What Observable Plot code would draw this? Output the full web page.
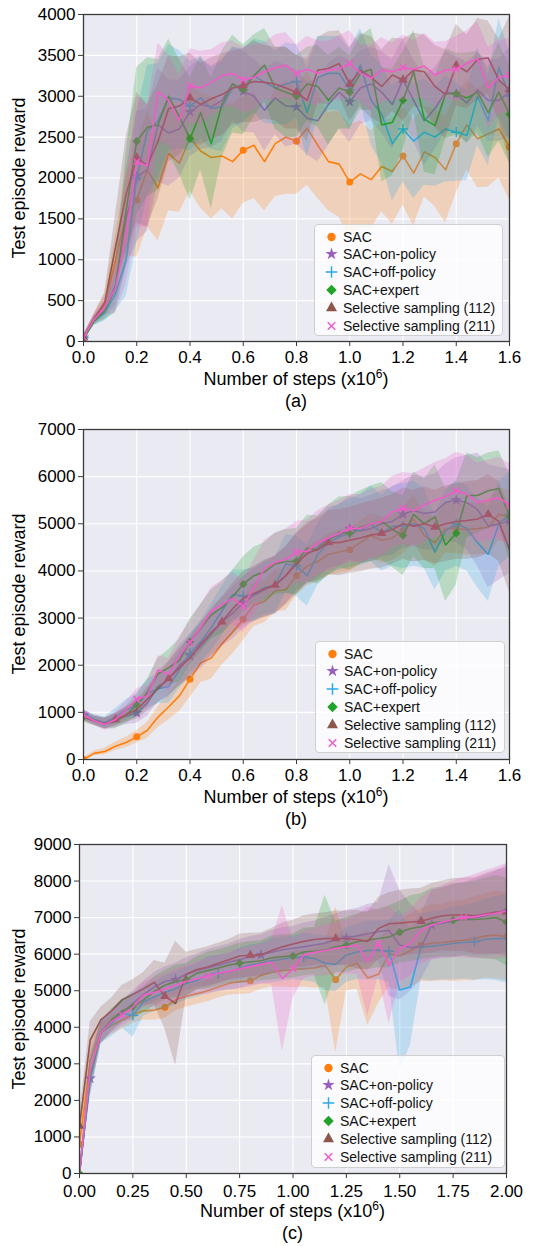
<!DOCTYPE html>
<html><head><meta charset="utf-8">
<script src="https://cdn.jsdelivr.net/npm/d3@7"></script>
<script src="https://cdn.jsdelivr.net/npm/@observablehq/plot@0.6"></script>
<style>
body{margin:0;background:#fff;font-family:"Liberation Sans",Arial,sans-serif;}
#root{position:relative;width:542px;height:1246px;overflow:hidden;background:#fff;}
.panel{position:absolute;left:0;}
.lbl{position:absolute;text-align:center;font-size:18px;line-height:20px;height:20px;color:#000;white-space:nowrap;}
.lbl sup{font-size:12px;line-height:0;vertical-align:7px;}
.ylbl{position:absolute;width:300px;height:20px;line-height:20px;text-align:center;font-size:18px;white-space:nowrap;transform:rotate(-90deg);transform-origin:center center;color:#000;}
.legend{position:absolute;background:rgba(255,255,255,0.8);border:1px solid #cfcfcf;border-radius:4px;box-sizing:border-box;}
.row{position:absolute;left:0;height:18px;display:flex;align-items:center;font-size:14px;white-space:nowrap;color:#111;}
.row svg{flex:none;}
</style></head>
<body><div id="root"></div>
<script>
// ---------------- DATA ----------------
const seriesNames = ["SAC","SAC+on-policy","SAC+off-policy","SAC+expert","Selective sampling (112)","Selective sampling (211)"];

const stepsAB = [0,0.04,0.08,0.12,0.16,0.2,0.24,0.28,0.32,0.36,0.4,0.44,0.48,0.52,0.56,0.6,0.64,0.68,0.72,0.76,0.8,0.84,0.88,0.92,0.96,1.0,1.04,1.08,1.12,1.16,1.2,1.24,1.28,1.32,1.36,1.4,1.44,1.48,1.52,1.56,1.6];
const stepsC = [0,0.05,0.1,0.15,0.2,0.25,0.3,0.35,0.4,0.45,0.5,0.55,0.6,0.65,0.7,0.75,0.8,0.85,0.9,0.95,1.0,1.05,1.1,1.15,1.2,1.25,1.3,1.35,1.4,1.45,1.5,1.55,1.6,1.65,1.7,1.75,1.8,1.85,1.9,1.95,2.0];

// panel (a): means
const aSAC = [50,280,450,1000,1550,1730,2100,1880,2300,2180,2490,2330,2250,2270,2200,2340,2400,2200,2420,2500,2450,2610,2400,2200,2170,1950,2050,1980,2140,2080,2270,2060,2320,2250,2100,2420,2650,2480,2540,2600,2380];
const aOn = [50,260,380,700,1500,2020,2100,2650,2550,2600,2810,2900,2870,2950,3150,3060,3000,2830,2980,2880,2870,2730,2700,2900,3050,2930,3100,3150,3050,2900,3200,2950,2700,2850,3050,3030,2920,3080,2950,2950,3050];
const aOff = [50,250,350,580,1000,2000,2580,2700,2980,2960,2880,2980,2850,2870,3100,3130,3250,3170,3100,3150,3180,2800,3230,3280,3280,3080,3380,2950,2780,2420,2600,2450,2560,2500,2600,2560,2520,3000,2700,3350,3000];
const aExp = [30,250,370,650,1600,2450,2620,2650,3000,2750,2480,2800,2420,2900,3150,3080,3250,3380,3100,3050,3000,3150,3120,2950,3100,3050,3280,3330,2650,2680,2950,3300,2720,2640,3030,3030,2980,3050,2800,3050,2780];
const a112 = [50,280,480,1150,1800,2250,2150,2450,2850,2880,2980,2900,2970,3020,3100,3130,3180,3170,3150,3100,3050,2950,3320,3340,3400,3150,3320,3230,3120,3260,3200,3320,3300,3120,3020,3380,3300,3450,3470,3200,3080];
const a211 = [50,270,420,650,1300,2200,2150,3050,2950,2700,3130,3100,3170,3250,3280,3200,3230,3300,3350,3380,3280,3330,3280,3320,3340,3400,3280,3220,3320,3300,3350,3330,3370,3260,3320,3330,3400,3460,3100,3230,3260];
// panel (a): band half-widths
const aSACs = [30,60,120,300,500,700,700,650,700,600,650,700,750,650,700,650,650,600,650,700,650,700,650,600,650,700,650,600,550,650,600,650,550,600,650,600,550,600,650,600,650];
const aOnS = [30,50,100,250,600,800,750,700,650,600,550,550,500,500,450,500,450,500,450,500,450,450,500,500,450,500,450,450,500,550,500,500,550,500,500,450,500,450,500,500,550];
const aOffS = [30,50,100,200,450,800,800,700,650,600,550,500,500,550,500,450,450,500,450,500,450,550,500,450,450,500,450,550,600,700,650,700,650,600,650,600,550,600,550,600,550];
const aExpS = [30,50,100,300,700,900,850,800,700,700,750,700,800,650,600,550,500,450,500,550,500,450,500,550,500,450,450,500,700,650,600,500,650,600,550,500,550,500,550,600,600];
const a112S = [30,60,120,400,700,800,750,700,650,600,550,500,500,500,450,450,500,450,450,500,450,500,400,450,400,450,450,500,450,450,500,450,450,500,550,500,450,500,450,500,900];
const a211S = [30,50,100,300,600,800,750,600,550,550,450,450,400,400,400,400,400,350,400,400,350,400,400,350,400,400,350,400,400,350,400,350,400,400,350,400,400,450,500,450,450];

// panel (b): means
const bSAC = [0,130,170,280,360,480,620,900,1120,1350,1700,2050,2150,2450,2700,2980,3280,3350,3580,3600,3900,4100,4200,4350,4400,4450,4600,4750,4650,4700,4850,5100,4750,4600,4900,4900,4880,4900,4920,5200,5150];
const bOn = [950,850,770,830,920,990,1200,1550,1700,2000,2200,2400,2650,2920,3100,3330,3480,3600,3700,3900,4200,4350,4500,4700,4750,4900,4850,4900,5000,5050,5200,5280,5220,5250,5450,5500,5450,5300,4950,5000,5050];
const bOff = [950,850,780,900,1050,1150,1400,1500,1550,1900,2250,2500,2800,3150,3500,3470,3500,3650,3700,4150,4100,3900,4350,4600,4720,4800,4870,5000,4800,4950,4950,5000,4900,4400,4850,5000,4900,4600,4350,5000,5200];
const bExp = [900,820,760,800,950,1150,1420,1820,1950,2100,2500,2780,3070,3220,3450,3720,3900,3980,4150,4200,4200,4480,4450,4650,4820,4800,4920,5000,5050,4880,4750,5200,5000,5150,4550,4800,5600,5600,5700,5750,5150];
const b112 = [900,820,760,850,950,1060,1280,1500,1720,1950,2150,2450,2700,2920,3200,3420,3520,3620,3700,3900,4150,4380,4450,4600,4600,4650,4700,4760,4800,4880,5000,4950,5000,4930,5000,5050,5070,5100,5200,5050,4450];
const b211 = [950,820,740,850,1050,1280,1350,1900,1800,2200,2480,2800,3150,3280,3420,3250,3650,4050,4180,4250,4400,4420,4600,4700,4800,4900,4900,5000,5050,5250,5330,5280,5400,5500,5580,5700,5630,5450,5500,5550,5400];
// panel (b): band half-widths
const bSACs = [30,50,70,90,110,130,170,220,280,330,380,420,440,450,460,460,460,450,450,440,420,420,430,440,450,460,460,470,480,480,490,500,500,510,520,530,540,550,560,560,560];
const bOnS = [100,100,120,150,180,220,280,330,380,420,450,480,500,520,550,550,560,580,600,600,620,620,650,650,650,680,680,700,700,720,720,750,780,800,820,900,1000,1200,1300,1200,1100];
const bOffS = [100,100,120,180,220,250,300,320,350,400,420,450,500,520,520,550,560,580,600,620,640,650,650,680,700,720,750,800,800,850,900,900,850,800,850,900,900,950,1000,900,900];
const bExpS = [100,100,120,150,180,230,280,330,380,450,480,500,520,550,560,580,600,620,650,680,700,700,720,750,750,780,780,800,820,800,850,900,950,1100,1200,1100,900,800,800,800,900];
const b112S = [100,100,110,130,160,200,250,300,350,400,430,460,500,520,540,560,580,600,620,620,640,650,660,680,700,700,720,720,740,740,760,760,780,780,800,800,820,820,840,850,900];
const b211S = [100,100,120,150,180,220,260,300,350,400,450,480,500,520,540,560,580,600,620,640,650,660,680,700,700,720,720,740,740,760,760,780,780,800,800,820,820,840,850,860,880];

// panel (c): means
const cSAC = [800,3100,3850,4050,4200,4350,4450,4470,4550,4750,4850,4920,5000,5100,5200,5250,5270,5420,5500,5550,5580,5600,5620,5700,5300,5650,5750,5350,5450,6000,5950,6100,6250,6300,6320,6350,6380,6420,6500,6520,6480];
const cOn = [0,2600,3850,4150,4400,4650,4900,5100,5250,5300,5450,5550,5620,5700,5780,5850,5930,5980,6050,6120,6160,6200,6250,6300,6400,6450,6500,6560,6620,6650,6250,6180,6200,6800,6850,6900,6970,7000,7050,7120,7230];
const cOff = [0,2600,3850,4100,4380,4330,4700,4830,4950,5060,5200,5280,5430,5480,5520,5620,5700,5750,5820,5860,5900,5920,5880,5750,5720,5980,6060,6100,6110,6080,5020,5100,6200,6220,6250,6290,6320,6340,6400,6430,6420];
const cExp = [0,2700,3850,4200,4450,4560,4750,4980,5150,5250,5300,5480,5550,5620,5700,5750,5790,5820,5900,5930,5950,6060,6080,6110,6200,6250,6340,6380,6430,6470,6600,6700,6750,6850,6880,6930,6940,6950,6970,7000,6880];
const c112 = [1300,3650,4200,4450,4750,4900,5050,5230,4850,4650,5450,5580,5650,5750,5850,5950,5970,5980,6100,6200,6280,6350,6400,6430,6430,6430,6400,6350,6700,6830,6850,6880,6900,6980,7050,7070,7080,7050,7100,7150,7150];
const c211 = [0,2800,3850,4150,4330,4550,4880,4950,5050,5150,5250,5330,5400,5480,5530,5600,5660,5720,5780,5330,5600,5980,6050,6100,6160,6200,6250,5800,6300,5700,6150,6300,6650,6800,6880,6950,7000,7020,7080,7120,7180];
// panel (c): band half-widths
const cSACs = [300,600,250,250,250,250,250,280,300,300,300,300,300,300,320,350,350,380,400,450,500,500,550,600,2000,650,700,1300,800,900,950,1000,1000,1050,1050,1100,1100,1150,1150,1200,1200];
const cOnS = [100,500,300,300,300,350,350,400,400,450,450,450,500,500,500,550,550,550,600,600,600,650,650,700,700,750,750,800,800,1800,1500,1200,900,950,950,1000,1000,1050,1100,1150,1200];
const cOffS = [100,500,300,350,400,600,400,400,450,450,450,450,500,500,500,550,550,550,600,600,600,650,650,750,750,750,750,800,800,850,2200,1600,900,950,950,1000,1000,1050,1100,1150,1200];
const cExpS = [100,500,300,300,300,350,350,400,400,450,450,450,500,500,500,550,550,550,600,600,600,650,650,1500,700,750,750,800,800,850,850,900,900,950,950,1000,1000,1050,1100,1150,1200];
const c112S = [300,500,350,350,400,400,450,600,900,1700,600,550,550,550,550,600,600,600,600,650,650,700,700,700,750,750,800,800,850,850,900,900,900,950,950,1000,1000,1050,1100,1150,1200];
const c211S = [100,500,300,300,300,350,350,400,400,450,450,450,500,500,500,550,550,550,600,2000,800,650,650,700,700,750,800,1500,900,1600,900,900,900,950,1000,1050,1100,1150,1200,1250,1300];

// tick labels
const xTicksAB = [0,0.2,0.4,0.6,0.8,1.0,1.2,1.4,1.6];
const xTicksC = [0,0.25,0.5,0.75,1.0,1.25,1.5,1.75,2.0];
const yTicksA = [0,500,1000,1500,2000,2500,3000,3500,4000];
const yTicksB = [0,1000,2000,3000,4000,5000,6000,7000];
const yTicksC = [0,1000,2000,3000,4000,5000,6000,7000,8000,9000];
const xLabel = "Number of steps (x10<sup>6</sup>)";
const yLabel = "Test episode reward";
const captions = ["(a)","(b)","(c)"];

// ---------------- STYLE ----------------
const colors = ["#ff7f0e","#9b5fc0","#2ea8e6","#1fa32a","#8c564b","#f05cc8"];
const symbols = ["circle","star","plus","diamond2","triangle","times"];
const d3sym = [d3.symbolCircle,d3.symbolStar,d3.symbolPlus,d3.symbolDiamond2,d3.symbolTriangle,d3.symbolTimes];
const strokeSym = [false,false,true,false,false,true];
const symR = [3.5,3.6,3.4,3.8,3.5,3.0];
const legR = [4.2,3.9,3.8,4.7,4.1,3.5];
const FONT = "'Liberation Sans', Arial, sans-serif";

const panels = [
  {means:[aSAC,aOn,aOff,aExp,a112,a211], spreads:[aSACs,aOnS,aOffS,aExpS,a112S,a211S], steps:stepsAB,
   xDomain:[0,1.6], yDomain:[0,4000], xTicks:xTicksAB, yTicks:yTicksA, xFmt:d3.format(".1f"), xPad:4,
   top:0, mt:14, ph:327, ml:83, mr:33, mark:[[5,0],[5,0],[5,0],[5,0],[5,0],[5,0]],
   lg:{x:314,y:224,w:189,h:112}},
  {means:[bSAC,bOn,bOff,bExp,b112,b211], spreads:[bSACs,bOnS,bOffS,bExpS,b112S,b211S], steps:stepsAB,
   xDomain:[0,1.6], yDomain:[0,7000], xTicks:xTicksAB, yTicks:yTicksB, xFmt:d3.format(".1f"), xPad:4,
   top:415, mt:14, ph:330, ml:83, mr:33, mark:[[5,0],[5,0],[5,0],[5,0],[5,3],[5,0]],
   lg:{x:315,y:641,w:190,h:112}},
  {means:[cSAC,cOn,cOff,cExp,c112,c211], spreads:[cSACs,cOnS,cOffS,cExpS,c112S,c211S], steps:stepsC,
   xDomain:[0,2.0], yDomain:[0,9000], xTicks:xTicksC, yTicks:yTicksC, xFmt:d3.format(".2f"), xPad:6,
   top:830, mt:14, ph:329, ml:79, mr:36, mark:[[8,0],[8,1],[8,5],[5,0],[8,0],[8,4]],
   lg:{x:311,y:1055,w:194,h:113}}
];

const root = document.getElementById("root");

panels.forEach((p, pi) => {
  const marks = [
    Plot.frame({fill:"#eaeaf2"}),
    Plot.gridX(p.xTicks, {stroke:"#ffffff", strokeOpacity:1, strokeWidth:1.1}),
    Plot.gridY(p.yTicks, {stroke:"#ffffff", strokeOpacity:1, strokeWidth:1.1})
  ];
  p.means.forEach((m, si) => {
    const sp = p.spreads[si];
    const rows = p.steps.map((x,i)=>({x, y:m[i], lo:m[i]-sp[i], hi:m[i]+sp[i], i}));
    const [every, off] = p.mark[si];
    const mk = rows.filter(d => d.i >= off && (d.i - off) % every === 0);
    marks.push(Plot.areaY(rows, {x:"x", y1:"lo", y2:"hi", fill:colors[si], fillOpacity:0.24, clip:true}));
    marks.push(Plot.lineY(rows, {x:"x", y:"y", stroke:colors[si], strokeWidth:1.6, clip:true}));
    if (strokeSym[si]) {
      marks.push(Plot.dot(mk, {x:"x", y:"y", symbol:symbols[si], r:symR[si], stroke:colors[si], strokeWidth:1.5, fill:"none", clip:true}));
    } else {
      marks.push(Plot.dot(mk, {x:"x", y:"y", symbol:symbols[si], r:symR[si], fill:colors[si], stroke:"none", clip:true}));
    }
  });
  marks.push(Plot.frame({stroke:"#3a3a3a", strokeWidth:1.3}));
  marks.push(Plot.axisX({ticks:p.xTicks, tickFormat:p.xFmt, tickSize:5, tickPadding:p.xPad, label:null, stroke:"#3a3a3a"}));
  marks.push(Plot.axisY({ticks:p.yTicks, tickFormat:d3.format("d"), tickSize:5, tickPadding:3, label:null, stroke:"#3a3a3a"}));

  const height = p.mt + p.ph + 32;
  const svg = Plot.plot({
    width:542, height,
    marginTop:p.mt, marginBottom:32, marginLeft:p.ml, marginRight:p.mr,
    x:{domain:p.xDomain}, y:{domain:p.yDomain},
    style:{fontFamily:FONT, fontSize:"17px", color:"#000", background:"transparent", overflow:"visible"},
    marks
  });
  const holder = document.createElement("div");
  holder.className = "panel";
  holder.style.top = p.top + "px";
  holder.appendChild(svg);
  root.appendChild(holder);

  const plotTop = p.top + p.mt, plotBottom = plotTop + p.ph;
  const plotLeft = p.ml, plotRight = 542 - p.mr;

  // x label
  const xl = document.createElement("div");
  xl.className = "lbl";
  xl.innerHTML = xLabel;
  Object.assign(xl.style, {left:plotLeft+"px", width:(plotRight-plotLeft)+"px", top:(plotBottom+38-10)+"px"});
  root.appendChild(xl);
  // caption
  const cap = document.createElement("div");
  cap.className = "lbl";
  cap.textContent = captions[pi];
  Object.assign(cap.style, {left:plotLeft+"px", width:(plotRight-plotLeft)+"px", top:(plotBottom+60-10)+"px"});
  root.appendChild(cap);
  // y label
  const yl = document.createElement("div");
  yl.className = "ylbl";
  yl.textContent = yLabel;
  Object.assign(yl.style, {left:(19-150)+"px", top:((plotTop+plotBottom)/2-10)+"px"});
  root.appendChild(yl);

  // legend
  const box = document.createElement("div");
  box.className = "legend";
  Object.assign(box.style, {left:p.lg.x+"px", top:p.lg.y+"px", width:p.lg.w+"px", height:p.lg.h+"px"});
  seriesNames.forEach((name, si) => {
    const row = document.createElement("div");
    row.className = "row";
    row.style.top = (11.5 + si*17.8 - 9) + "px";
    const s = d3.create("svg").attr("width", 28).attr("height", 18);
    const size = Math.PI * legR[si] * legR[si];
    const path = s.append("path").attr("transform","translate(16.5,9)").attr("d", d3.symbol(d3sym[si], size)());
    if (strokeSym[si]) path.attr("fill","none").attr("stroke",colors[si]).attr("stroke-width",1.5);
    else path.attr("fill",colors[si]);
    row.appendChild(s.node());
    const t = document.createElement("span");
    t.textContent = name;
    row.appendChild(t);
    box.appendChild(row);
  });
  root.appendChild(box);
});
</script>
</body></html>
